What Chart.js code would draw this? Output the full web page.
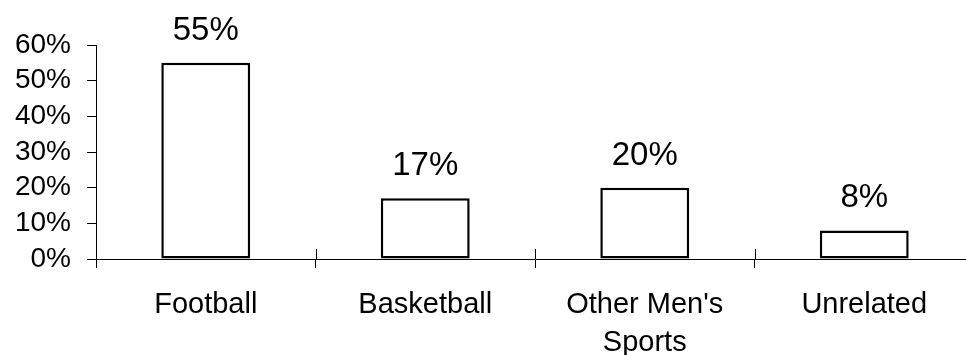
<!DOCTYPE html>
<html>
<head>
<meta charset="utf-8">
<script src="https://cdn.jsdelivr.net/npm/chart.js@4"></script>
<style>
  html, body { margin: 0; padding: 0; overflow: hidden; background: #fff; }
</style>
</head>
<body>
<canvas id="myChart" width="974" height="355"></canvas>
<script>
const categories = ['Football', 'Basketball', ["Other Men's", 'Sports'], 'Unrelated'];
const shares = [55, 17, 20, 8];
const yTicks = [0, 10, 20, 30, 40, 50, 60];

const FONT = "'Liberation Sans', Arial, sans-serif";

// value labels above the bars
const barLabels = {
  id: 'barLabels',
  afterDatasetsDraw(chart) {
    const ctx = chart.ctx;
    const meta = chart.getDatasetMeta(0);
    ctx.save();
    ctx.font = '33px ' + FONT;
    ctx.fillStyle = '#000';
    ctx.textAlign = 'center';
    ctx.textBaseline = 'alphabetic';
    meta.data.forEach(function(bar, i) {
      ctx.fillText(shares[i] + '%', bar.x, bar.y - 23);
    });
    ctx.restore();
  }
};

// category ticks poke up a little above the x axis
const tickUp = {
  id: 'tickUp',
  afterDraw(chart) {
    const x = chart.scales.x, y = chart.scales.y;
    const ctx = chart.ctx;
    const base = y.getPixelForValue(0);
    ctx.save();
    ctx.strokeStyle = '#000';
    ctx.lineWidth = 1;
    for (let i = 0; i <= categories.length; i++) {
      const px = Math.round(x.getPixelForValue(i - 0.5)) + 0.5;
      ctx.beginPath();
      ctx.moveTo(px, base - 10);
      ctx.lineTo(px, base);
      ctx.stroke();
    }
    ctx.restore();
  }
};

const ctx = document.getElementById('myChart').getContext('2d');
const myChart = new Chart(ctx, {
  type: 'bar',
  plugins: [barLabels, tickUp],
  data: {
    labels: categories,
    datasets: [{
      data: shares,
      backgroundColor: '#fff',
      borderColor: '#000',
      borderWidth: 2.5,
      borderSkipped: false,
      categoryPercentage: 1,
      barPercentage: 0.405
    }]
  },
  options: {
    responsive: false,
    animation: false,
    layout: { padding: { top: 45, left: 0, right: 0, bottom: 0 } },
    plugins: {
      legend: { display: false },
      tooltip: { enabled: false }
    },
    scales: {
      x: {
        afterFit(scale) { scale.height = 96; },
        grid: {
          offset: true,
          drawOnChartArea: false,
          drawTicks: true,
          tickLength: 9,
          color: '#000'
        },
        border: { display: true, color: '#000', width: 1 },
        ticks: {
          color: '#000',
          padding: 18,
          maxRotation: 0,
          autoSkip: false,
          font: { family: FONT, size: 29, lineHeight: 1.3 }
        }
      },
      y: {
        min: 0,
        max: 60,
        afterFit(scale) { scale.width = 96; },
        afterBuildTicks(scale) { scale.ticks = yTicks.map(v => ({ value: v })); },
        grid: {
          drawOnChartArea: false,
          drawTicks: true,
          tickLength: 9,
          color: '#000'
        },
        border: { display: true, color: '#000', width: 1 },
        ticks: {
          color: '#000',
          padding: 16,
          autoSkip: false,
          font: { family: FONT, size: 28 },
          callback: v => v + '%'
        }
      }
    }
  }
});
</script>
</body>
</html>
